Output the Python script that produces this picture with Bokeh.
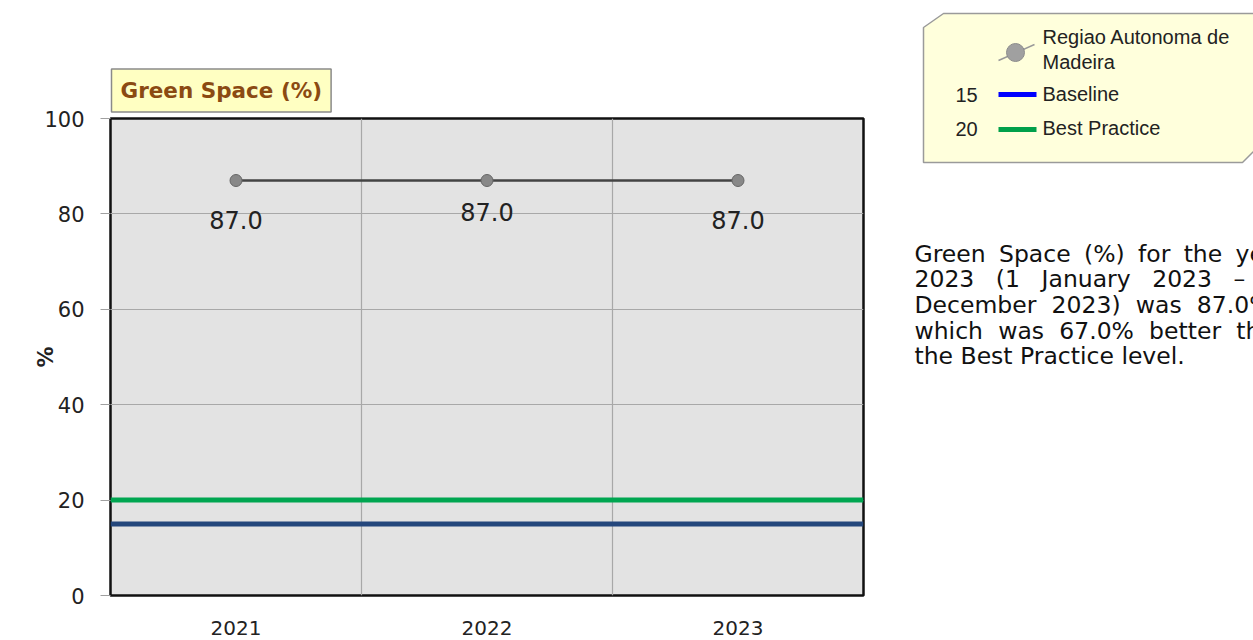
from bokeh.plotting import figure
from bokeh.models import (Range1d, FixedTicker, Span, Title, ColumnDataSource)
from bokeh.layouts import row
from bokeh.embed import file_html
from bokeh.resources import INLINE
from bokeh.core.properties import value
import numpy as np

# ---- data ----
years = ["2021", "2022", "2023"]
green_space = [87.0, 87.0, 87.0]
baseline = 15
best_practice = 20
series_name = "Regiao Autonoma de Madeira"
y_ticks = [0, 20, 40, 60, 80, 100]
indicator = "Green Space (%)"

# ---- main chart ----
xs = list(np.arange(len(years)) + 0.5)
p = figure(width=880, height=640, output_backend="svg", toolbar_location=None,
           x_range=Range1d(0, len(years)), y_range=Range1d(0, 100),
           min_border_left=110, min_border_right=17, min_border_top=118,
           min_border_bottom=45, title=None)
p.background_fill_color = "#e3e3e3"
p.border_fill_color = "white"
p.outline_line_color = "#111111"
p.outline_line_width = 2.5

# y axis
p.yaxis.ticker = FixedTicker(ticks=y_ticks)
p.yaxis.axis_line_color = None
p.yaxis.major_tick_out = 10
p.yaxis.major_tick_in = 0
p.yaxis.major_tick_line_color = "#a0a0a0"
p.yaxis.minor_tick_line_color = None
p.yaxis.major_label_text_font = "DejaVu Sans"
p.yaxis.major_label_text_font_size = "21px"
p.yaxis.major_label_text_color = "#222222"
p.yaxis.major_label_standoff = 16
p.yaxis.axis_label = "%"
p.yaxis.axis_label_text_font = "DejaVu Sans"
p.yaxis.axis_label_text_font_size = "21px"
p.yaxis.axis_label_text_font_style = "bold"
p.yaxis.axis_label_text_color = "#222222"
p.yaxis.axis_label_standoff = -17

# x axis
p.xaxis.ticker = FixedTicker(ticks=xs)
p.xaxis.major_label_overrides = {float(x): y for x, y in zip(xs, years)}
p.xaxis.axis_line_color = None
p.xaxis.major_tick_line_color = None
p.xaxis.minor_tick_line_color = None
p.xaxis.major_label_text_font = "DejaVu Sans"
p.xaxis.major_label_text_font_size = "20px"
p.xaxis.major_label_text_color = "#222222"
p.xaxis.major_label_standoff = 19

# grids
p.xgrid.ticker = FixedTicker(ticks=list(range(1, len(years))))
p.xgrid.grid_line_color = "#a8a8a8"
p.xgrid.grid_line_width = 1.2
p.ygrid.ticker = FixedTicker(ticks=y_ticks[1:-1])
p.ygrid.grid_line_color = "#a8a8a8"
p.ygrid.grid_line_width = 1.2

# reference lines
p.add_layout(Span(location=baseline, dimension="width", line_color="#24477c", line_width=5))
p.add_layout(Span(location=best_practice, dimension="width", line_color="#00a651", line_width=5))

# series
src = ColumnDataSource(dict(x=xs, y=green_space,
                            lab=[f"{v:.1f}" for v in green_space],
                            yoff=[39, 31, 39]))
p.line("x", "y", source=src, line_color="#444444", line_width=2.5)
p.scatter("x", "y", source=src, size=12, fill_color="#888888", line_color="#666666", line_width=1)
p.text("x", "y", text="lab", source=src, y_offset="yoff", text_align="center",
       text_baseline="middle", text_font=value("DejaVu Sans"), text_font_size="24px",
       text_color="#222222")

# title box
t = Title(text=indicator, align="left", offset=1, standoff=13,
          text_font="DejaVu Sans", text_font_style="bold",
          text_font_size="21.5px", text_color="#8b4a12",
          background_fill_color="#ffffc2", border_line_color="#8a8a8a",
          border_line_width=1.5)
try:
    t.padding = 9
except Exception:
    pass
p.add_layout(t, "above")

# ---- right panel: legend + text ----
r = figure(width=373, height=640, output_backend="svg", toolbar_location=None,
           x_range=Range1d(880, 1253), y_range=Range1d(640, 0),
           x_axis_location=None, y_axis_location=None, title=None,
           min_border=0, min_border_left=0, min_border_right=0,
           min_border_top=0, min_border_bottom=0)
for fig in (p, r):
    try:
        fig.frame_align = False
    except Exception:
        pass
r.outline_line_color = None
r.xgrid.visible = False
r.ygrid.visible = False
r.background_fill_color = "white"
r.border_fill_color = "white"

r.patch([923, 943, 1262, 1262, 1242, 923], [27, 13, 13, 142, 162, 162],
        fill_color="#ffffdc", line_color="#9a9a9a", line_width=1.5)
r.line([998, 1034], [60, 44], line_color="#999999", line_width=1.5)
r.scatter([1015], [52], size=18, fill_color="#a0a0a0", line_color="#8c8c8c")
lf = value("Liberation Sans")
r.text([1042, 1042], [36, 61], text=["Regiao Autonoma de", "Madeira"],
       text_baseline="middle", text_font=lf, text_font_size="20px", text_color="#222222")
r.line([998, 1036], [94, 94], line_color="#0000ff", line_width=5)
r.line([998, 1036], [129, 129], line_color="#00a04a", line_width=5)
r.text([955, 955], [94, 128], text=[f"{baseline:g}", f"{best_practice:g}"],
       text_baseline="middle", text_font=lf, text_font_size="20px", text_color="#222222")
r.text([1042, 1042], [93, 127], text=["Baseline", "Best Practice"],
       text_baseline="middle", text_font=lf, text_font_size="20px", text_color="#222222")

latest = green_space[-1]
diff = latest - best_practice
words = [[*indicator.split(" "), "for", "the", "year"],
         [years[-1], "(1", "January", years[-1], "\u2013", "31"],
         ["December", f"{years[-1]})", "was", f"{latest:.1f}%,"],
         ["which", "was", f"{diff:.1f}%", "better", "than"],
         ["the", "Best", "Practice", "level."]]
# justified-looking gaps (normal space + extra unicode space)
gaps = [" \u2005", " \u2002\u200a", " \u2004", " \u2004", " "]
lines = [g.join(w) for w, g in zip(words, gaps)]
r.text([914] * len(lines), [253, 278, 304, 330, 355], text=lines,
       text_baseline="alphabetic", text_font=value("DejaVu Sans"), text_font_size="23.5px",
       text_color="#111111")

layout = row(p, r)
open("out.html", "w").write(file_html(layout, INLINE))
